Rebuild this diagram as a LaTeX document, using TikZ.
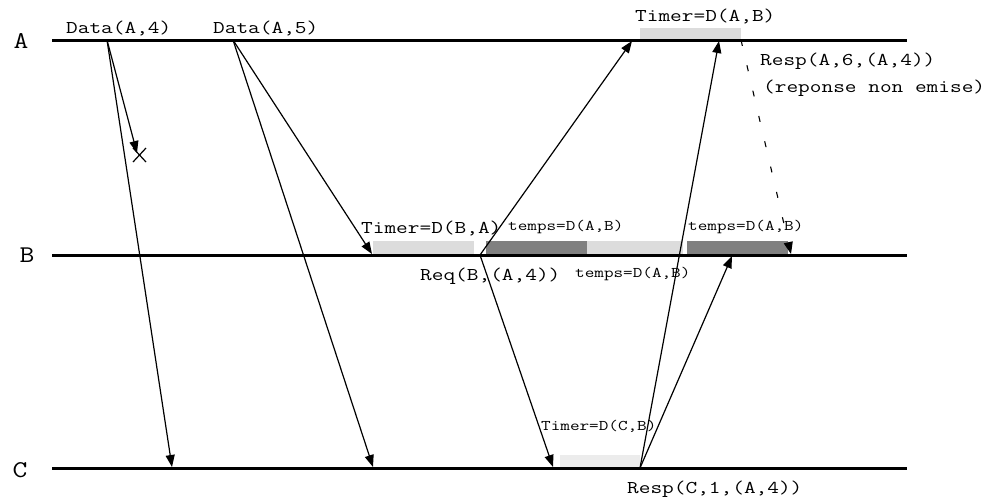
\documentclass[tikz,border=0pt]{standalone}
\usepackage{fontspec}
\usepackage{graphicx}
\usetikzlibrary{arrows.meta}
\definecolor{lightg}{HTML}{DCDCDC}
\definecolor{lighterg}{HTML}{ECECEC}
\definecolor{darkg}{HTML}{808080}
\newcommand{\wide}[1]{\scalebox{1.26}[1]{#1}}
\newcommand{\pwide}[1]{\scalebox{1.2}[1]{#1}}
\begin{document}
\begin{tikzpicture}[x=1pt,y=-1pt,
  proc/.style={line width=3pt},
  msg/.style={line width=1.2pt,-{Triangle[length=12pt,width=9pt]}},
  lostmsg/.style={line width=1.2pt,-{Triangle[length=12pt,width=9pt]}},
  dashmsg/.style={line width=1.1pt,dash pattern=on 6pt off 20pt,-{Triangle[length=12pt,width=9pt]}},
  big/.style={font=\ttfamily\fontsize{18}{20}\selectfont,inner sep=0pt,anchor=base west},
  small/.style={font=\ttfamily\fontsize{14.8}{17}\selectfont,inner sep=0pt,anchor=base west},
  plabel/.style={font=\ttfamily\fontsize{24}{26}\selectfont,inner sep=0pt,anchor=base}]
\useasboundingbox (0,0) rectangle (989,501);
% timer boxes
\fill[lightg] (640,28) rectangle (741,40);
\fill[lightg] (373,241) rectangle (474,255);
\fill[darkg] (486,241) rectangle (587,255);
\fill[lightg] (587,241) rectangle (683,255);
\fill[darkg] (687,241) rectangle (788,255);
\fill[lighterg] (560,455) rectangle (640,468);
% process lines
\coordinate (a0) at (52,40); \coordinate (a1) at (907,40);
\coordinate (b0) at (52,255); \coordinate (b1) at (907,255);
\coordinate (c0) at (52,468); \coordinate (c1) at (907,468);
\draw[proc] (a0) -- (a1);
\draw[proc] (b0) -- (b1);
\draw[proc] (c0) -- (c1);
\node[plabel] (nA) at (21,48) {\pwide{A}};
\node[plabel] (nB) at (27,262) {\pwide{B}};
\node[plabel] (nC) at (20,477) {\pwide{C}};
% events
\coordinate (a4) at (107,40);
\coordinate (a5) at (233,40);
\coordinate (lost) at (137,153);
\coordinate (c4) at (172,467);
\coordinate (c5) at (373,467);
\coordinate (b5) at (372,254);
\coordinate (breq) at (480,255);
\coordinate (areq) at (632,41);
\coordinate (creq) at (553,467);
\coordinate (cresp) at (640,468);
\coordinate (aresp) at (719,41);
\coordinate (bresp) at (732,256);
\coordinate (astart) at (741,40);
\coordinate (bend) at (791,254);
% messages
\draw[msg] (a4) -- (c4);
\draw[lostmsg] (a4) -- (lost);
\draw[line width=1.2pt] (133,148) -- (146,162) (146,148) -- (133,162);
\draw[msg] (a5) -- (c5);
\draw[msg] (a5) -- (b5);
\draw[msg] (breq) -- (areq);
\draw[msg] (breq) -- (creq);
\draw[msg] (cresp) -- (aresp);
\draw[msg] (cresp) -- (bresp);
\draw[dashmsg] (astart) -- (bend);
% labels
\node[big] (l1) at (66,33) {\wide{Data(A,4)}};
\node[big] (l2) at (213,33) {\wide{Data(A,5)}};
\node[big] (l3) at (635,21) {\wide{Timer=D(A,B)}};
\node[big] (l4) at (760,65) {\wide{Resp(A,6,(A,4))}};
\node[big] (l5) at (763,92) {\wide{(reponse non emise)}};
\node[big] (l6) at (361,233) {\wide{Timer=D(B,A)}};
\node[small] (l7) at (508,230) {\wide{temps=D(A,B)}};
\node[small] (l8) at (688,230) {\wide{temps=D(A,B)}};
\node[big] (l9) at (420,280) {\wide{Req(B,(A,4))}};
\node[small] (l10) at (575,277) {\wide{temps=D(A,B)}};
\node[small] (l11) at (541,430) {\wide{Timer=D(C,B)}};
\node[big] (l12) at (627,493) {\wide{Resp(C,1,(A,4))}};
\end{tikzpicture}
\end{document}
